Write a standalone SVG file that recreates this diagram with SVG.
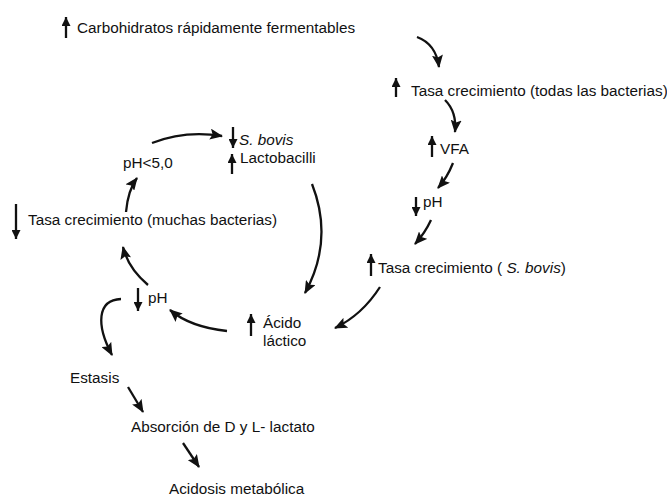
<svg xmlns="http://www.w3.org/2000/svg" width="667" height="496" viewBox="0 0 667 496">
<defs>
<style>
text{font-family:"Liberation Sans",Arial,sans-serif;font-size:15.3px;fill:#111}
.it{font-style:italic}
.c{fill:none;stroke:#111;stroke-width:2.3;marker-end:url(#ah)}
.ind{fill:none;stroke:#111;stroke-width:2.3;marker-end:url(#ih)}
</style>
<marker id="ah" markerUnits="userSpaceOnUse" markerWidth="13" markerHeight="11" refX="12" refY="5.5" orient="auto" viewBox="0 0 13 11">
<path d="M0,0 L13,5.5 L0,11 L2.5,5.5 z" fill="#111"/>
</marker>
<marker id="ih" markerUnits="userSpaceOnUse" markerWidth="9" markerHeight="9" refX="9" refY="4.5" orient="auto" viewBox="0 0 9 9">
<path d="M0,0 L9,4.5 L0,9 z" fill="#111"/>
</marker>
</defs>
<rect width="667" height="496" fill="#fff"/>
<g id="connectors">
<path class="c" d="M417,37 Q436,44 439,67"/>
<path class="c" d="M445,100 Q457,112 455,132"/>
<path class="c" d="M453,163 Q447,178 438,188"/>
<path class="c" d="M431,220 Q425,233 415,244"/>
<path class="c" d="M380,287 Q362,315 335,328"/>
<path class="c" d="M312,184 Q334,240 305,293"/>
<path class="c" d="M227,331 Q190,327 170,310"/>
<path class="c" d="M148,285 Q128,268 123,247"/>
<path class="c" d="M126,212 Q128,190 137,178"/>
<path class="c" d="M152,143 Q185,130 222,136"/>
<path class="c" d="M121,299 C97,300 96,325 112,355"/>
<path class="c" d="M128,387 L143,412"/>
<path class="c" d="M183,443 L199,467"/>
</g>
<g id="carbohidratos">
<path class="ind" d="M66,38 L66,17"/>
<text x="77" y="33">Carbohidratos rápidamente fermentables</text>
</g>
<g id="tasa-todas">
<path class="ind" d="M396,97 L396,78"/>
<text x="411" y="96">Tasa crecimiento (todas las bacterias)</text>
</g>
<g id="vfa">
<path class="ind" d="M432,157 L432,136"/>
<text x="440" y="154">VFA</text>
</g>
<g id="ph-right">
<path class="ind" d="M416,197 L416,216"/>
<text x="423" y="207">pH</text>
</g>
<g id="tasa-sbovis">
<path class="ind" d="M371,276 L371,254"/>
<text x="378" y="273">Tasa crecimiento ( <tspan class="it">S. bovis</tspan>)</text>
</g>
<g id="sbovis-lacto">
<path class="ind" d="M233,127 L233,148"/>
<text x="239" y="145" class="it">S. bovis</text>
<path class="ind" d="M232,174 L232,154"/>
<text x="240" y="163">Lactobacilli</text>
</g>
<g id="ph-5">
<text x="123" y="168">pH&lt;5,0</text>
</g>
<g id="tasa-muchas">
<path class="ind" d="M16,204 L16,239"/>
<text x="28" y="225">Tasa crecimiento (muchas bacterias)</text>
</g>
<g id="ph-left">
<path class="ind" d="M138,288 L138,311"/>
<text x="148" y="303">pH</text>
</g>
<g id="acido-lactico">
<path class="ind" d="M251,336 L251,314"/>
<text x="263" y="328">Ácido</text>
<text x="263" y="346">láctico</text>
</g>
<g id="estasis">
<text x="70" y="383">Estasis</text>
</g>
<g id="absorcion">
<text x="131" y="432">Absorción de D y L- lactato</text>
</g>
<g id="acidosis">
<text x="169" y="494">Acidosis metabólica</text>
</g>
</svg>
